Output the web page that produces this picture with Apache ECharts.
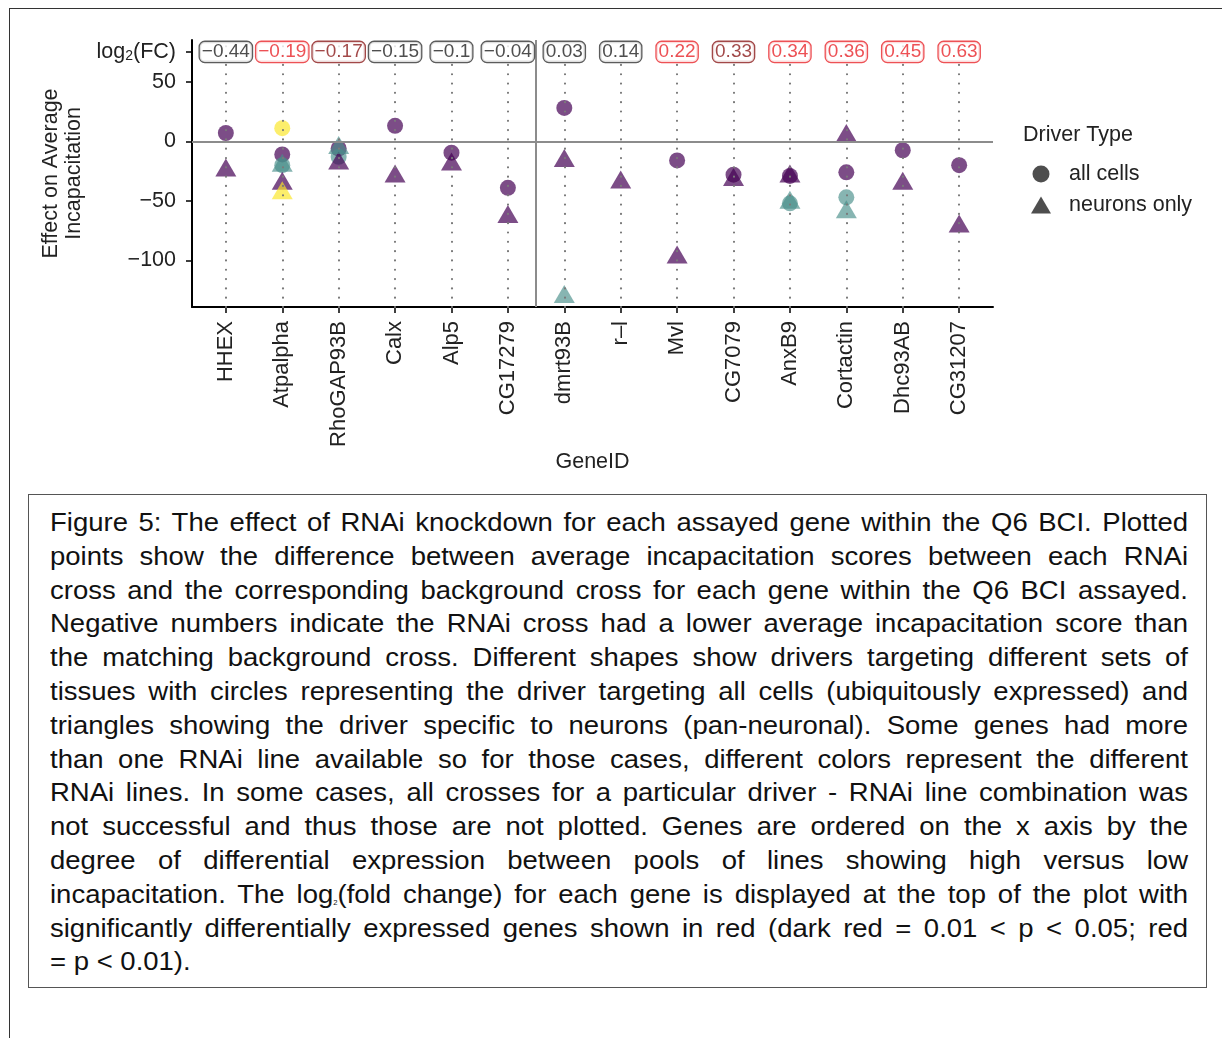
<!DOCTYPE html>
<html>
<head>
<meta charset="utf-8">
<script src="https://cdn.jsdelivr.net/npm/echarts@6/dist/echarts.min.js"></script>
<style>
  html, body { margin: 0; padding: 0; background: #fff; }
  #wrap { position: relative; width: 1222px; height: 1038px; overflow: hidden; }
  #chart { position: absolute; left: 0; top: 0; width: 1222px; height: 1038px; }
  #frame { position: absolute; left: 9px; top: 8px; width: 1230px; height: 1040px;
           border-left: 1.5px solid #333; border-top: 1.5px solid #333; pointer-events: none; }
  #caption { position: absolute; left: 28px; top: 494px; width: 1177px; height: 492px;
             border: 1.5px solid #555; background: #fff; box-sizing: content-box; }
  #caption .ln { position: absolute; left: 21px; white-space: nowrap;
                 font-family: "Liberation Sans", Arial, sans-serif; font-size: 25px; color: #111;
                 line-height: 28px; transform-origin: left center; }
  #caption sub { font-size: 7px; vertical-align: -2px; }
</style>
</head>
<body>
<div id="wrap">
  <div id="chart"></div>
  <div id="frame"></div>
  <div id="caption"></div>
</div>
<script>
// ---------- data ----------
const genes = ['HHEX','Atpalpha','RhoGAP93B','Calx','Alp5','CG17279','dmrt93B','r\u2013l','Mvl','CG7079','AnxB9','Cortactin','Dhc93AB','CG31207'];
const log2fc = [-0.44,-0.19,-0.17,-0.15,-0.1,-0.04,0.03,0.14,0.22,0.33,0.34,0.36,0.45,0.63];
// significance: 'ns' = not significant, 'dark' = 0.01<p<0.05, 'red' = p<0.01
const sigLevel = ['ns','red','dark','ns','ns','ns','ns','ns','red','dark','red','red','red','red'];
const yTicks = [-100, -50, 0, 50];
const fcRowValue = 75;

// effect on average incapacitation, per RNAi line (1 = purple, 2 = teal, 3 = yellow)
const circleLine1 = [7, -11, -6, 13, -9.5, -39, 28, null, -16, -28, -29, -26, -7.5, -20];
const circleLine2 = [null, -20, -13, null, null, null, null, null, null, null, -52, -47, null, null];
const circleLine3 = [null, 11, null, null, null, null, null, null, null, null, null, null, null, null];
const triLine1 = [-22, -33, -16, -27, -17, -61, -14, -32, -95, -30, -27, 7, -33, -69];
const triLine2 = [null, -18, -3, null, null, null, -128, null, null, null, -49, -57, null, null];
const triLine3 = [null, -41, null, null, null, null, null, null, null, null, null, null, null, null];

const lineColors = ['rgba(68,1,84,0.88)', 'rgba(72,142,138,0.82)', 'rgba(250,230,40,0.85)'];
const sigColors = { ns: '#222222', dark: '#8b1a1a', red: '#e8262b' };

const captionLines = [
  'Figure 5: The effect of RNAi knockdown for each assayed gene within the Q6 BCI. Plotted',
  'points show the difference between average incapacitation scores between each RNAi',
  'cross and the corresponding background cross for each gene within the Q6 BCI assayed.',
  'Negative numbers indicate the RNAi cross had a lower average incapacitation score than',
  'the matching background cross. Different shapes show drivers targeting different sets of',
  'tissues with circles representing the driver targeting all cells (ubiquitously expressed) and',
  'triangles showing the driver specific to neurons (pan-neuronal). Some genes had more',
  'than one RNAi line available so for those cases, different colors represent the different',
  'RNAi lines. In some cases, all crosses for a particular driver - RNAi line combination was',
  'not successful and thus those are not plotted. Genes are ordered on the x axis by the',
  'degree of differential expression between pools of lines showing high versus low',
  'incapacitation. The log<sub>2</sub>(fold change) for each gene is displayed at the top of the plot with',
  'significantly differentially expressed genes shown in red (dark red = 0.01 < p < 0.05; red',
  '= p < 0.01).'
];

// ---------- build ----------
const FONT = '"Liberation Sans", Arial, Helvetica, sans-serif';
const FS = 21.5;
const fmtNum = v => String(v).replace('-', '\u2212');

function points(arrs) {
  const out = [];
  arrs.forEach((arr, li) => {
    arr.forEach((v, i) => {
      if (v !== null) out.push({ value: [i, v], itemStyle: { color: lineColors[li] } });
    });
  });
  return out;
}

const chart = echarts.init(document.getElementById('chart'), null, { renderer: 'canvas' });
const idx = genes.map((g, i) => i);

const option = {
  animation: false,
  backgroundColor: '#fff',
  textStyle: { fontFamily: FONT },
  title: {
    text: 'Driver Type', left: 1018, top: 119,
    textStyle: { fontFamily: FONT, fontSize: FS, fontWeight: 'normal', color: '#222' }
  },
  legend: {
    data: ['all cells', 'neurons only'],
    orient: 'vertical', left: 1026, top: 158,
    itemWidth: 20, itemHeight: 17, itemGap: 9,
    textStyle: { fontFamily: FONT, fontSize: FS, color: '#222', padding: [0, 0, 0, 13] },
    selectedMode: false
  },
  grid: { left: 192, right: 229, top: 40, bottom: 731, containLabel: false },
  xAxis: {
    type: 'value', min: -0.6, max: 13.6,
    name: 'GeneID', nameLocation: 'middle', nameGap: 143,
    nameTextStyle: { fontFamily: FONT, fontSize: FS, color: '#222' },
    axisLine: { show: true, onZero: false, lineStyle: { color: '#000', width: 2 } },
    axisTick: { show: true, customValues: idx, length: 6, lineStyle: { color: '#000', width: 1.5 } },
    axisLabel: {
      customValues: idx, rotate: 90, margin: 14, fontSize: 22, color: '#222', fontFamily: FONT,
      formatter: v => genes[Math.round(v)]
    },
    splitLine: { show: false }
  },
  yAxis: {
    type: 'value', min: -139, max: 85,
    name: 'Effect on Average\nIncapacitation', nameLocation: 'middle', nameGap: 104, nameRotate: 90,
    nameTextStyle: { fontFamily: FONT, fontSize: FS, color: '#222', lineHeight: 23 },
    axisLine: { show: true, onZero: false, lineStyle: { color: '#000', width: 2 } },
    axisTick: { show: true, customValues: yTicks.concat([fcRowValue]), length: 6, lineStyle: { color: '#000', width: 1.5 } },
    axisLabel: {
      customValues: yTicks.concat([fcRowValue]), margin: 16, fontSize: FS, color: '#222', fontFamily: FONT,
      formatter: v => v === fcRowValue ? '{a|log}{s|2}{a|(FC)}' : fmtNum(v),
      rich: {
        a: { fontSize: FS, color: '#222', fontFamily: FONT },
        s: { fontSize: 14, color: '#222', fontFamily: FONT, verticalAlign: 'bottom', padding: [9, 0, 0, 0] }
      }
    },
    splitLine: { show: false }
  },
  series: [
    {
      name: 'guides', type: 'scatter', data: [], z: 1, silent: true,
      markLine: {
        silent: true, symbol: ['none', 'none'], animation: false,
        label: { show: false },
        data: idx.map(i => ({ xAxis: i, lineStyle: { color: '#7a7a7a', width: 2.2, type: [0.01, 9.3], cap: 'round' } }))
          .concat([
            { yAxis: 0, lineStyle: { color: '#8c8c8c', width: 2, type: 'solid' } },
            { xAxis: 5.5, lineStyle: { color: '#8c8c8c', width: 2, type: 'solid' } }
          ])
      }
    },
    {
      name: 'all cells', type: 'scatter', symbol: 'circle', symbolSize: 16, z: 3,
      itemStyle: { color: '#222' },
      data: points([circleLine1, circleLine2, circleLine3])
    },
    {
      name: 'neurons only', type: 'scatter', symbol: 'triangle', symbolSize: [21, 18], z: 4,
      itemStyle: { color: '#222' },
      data: points([triLine1, triLine2, triLine3])
    },
    {
      name: 'log2FC', type: 'scatter', symbolSize: 0, z: 6, silent: true,
      data: log2fc.map((v, i) => ({
        value: [i, fcRowValue],
        label: {
          color: sigColors[sigLevel[i]],
          borderColor: sigLevel[i] === 'ns' ? '#333' : sigColors[sigLevel[i]]
        }
      })),
      label: {
        show: true, position: 'inside', fontSize: 19, fontFamily: FONT,
        formatter: p => fmtNum(log2fc[p.dataIndex]),
        backgroundColor: '#fff', borderWidth: 1.3, borderRadius: 5, padding: [1, 2, 0, 2]
      }
    }
  ]
};
chart.setOption(option);

// ---------- caption (justified lines) ----------
const cap = document.getElementById('caption');
const target = 1138;
const stretch = 1.1;
captionLines.forEach((t, k) => {
  const d = document.createElement('div');
  d.className = 'ln';
  d.innerHTML = t.replace(/ < /g, ' &lt; ');
  d.style.top = (13 + k * 33.8) + 'px';
  cap.appendChild(d);
  const w = d.getBoundingClientRect().width;
  const spaces = (d.textContent.match(/ /g) || []).length;
  if (k < captionLines.length - 1) {
    if (w * stretch <= target) {
      d.style.wordSpacing = ((target / stretch - w) / spaces) + 'px';
      d.style.transform = 'scaleX(' + stretch + ')';
    } else {
      d.style.transform = 'scaleX(' + (target / w) + ')';
    }
  } else {
    d.style.transform = 'scaleX(' + stretch + ')';
  }
});
</script>
</body>
</html>
